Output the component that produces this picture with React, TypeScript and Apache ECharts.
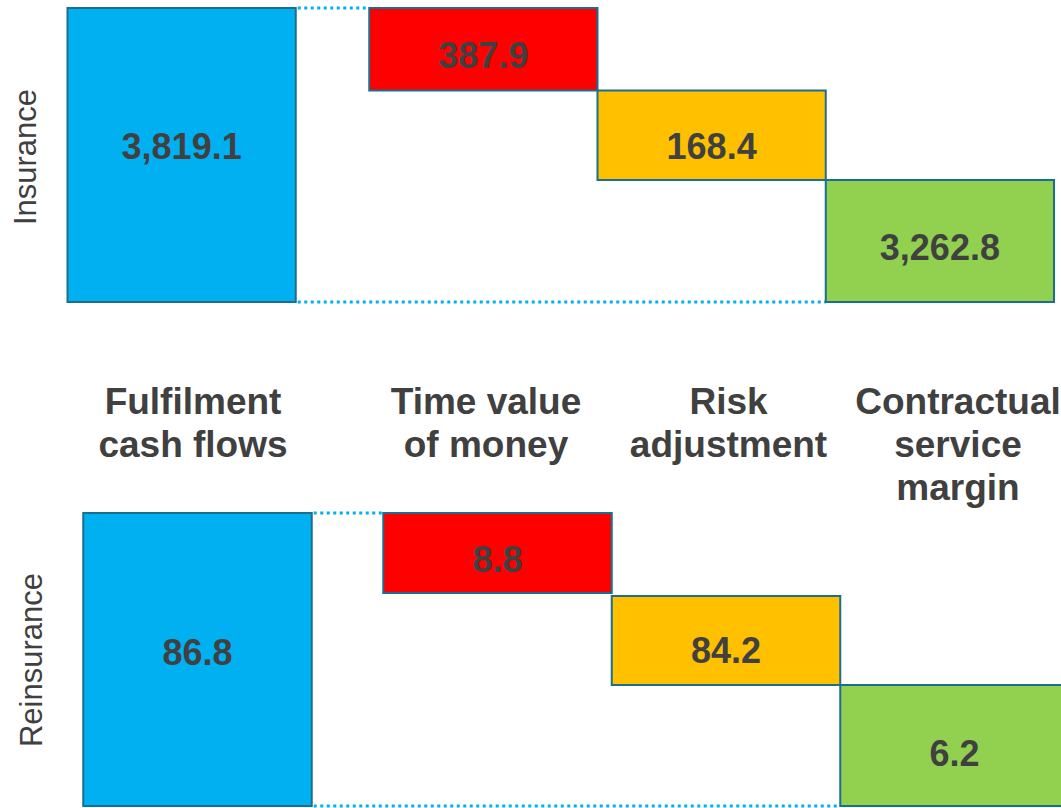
import React, { useEffect, useRef } from "react";
import * as echarts from "echarts";

// ---- data ----
const categories = [
  "Fulfilment\ncash flows",
  "Time value\nof money",
  "Risk\nadjustment",
  "Contractual\nservice\nmargin",
];
const panelTitles = ["Insurance", "Reinsurance"];

const insuranceValues = [3819.1, 387.9, 168.4, 3262.8];
const reinsuranceValues = [86.8, 8.8, 84.2, 6.2];

// The original is a schematic waterfall (not drawn to scale): each bar's span
// is read off the picture, in percent of the full first bar.
const insuranceSpanLow = [0, 71.9, 41.5, 0];
const insuranceSpanHigh = [100, 100, 71.9, 41.5];
const reinsuranceSpanLow = [0, 72.7, 41.3, 0];
const reinsuranceSpanHigh = [100, 100, 71.7, 41.3];

// ---- styles ----
const barColors = ["#00B0F0", "#FF0000", "#FFC000", "#92D050"];
const borderColor = "#1B6F8E";
const textColor = "#404040";
const FONT = '"Liberation Sans", Arial, Helvetica, sans-serif';

const fmt = (v: number) =>
  v.toLocaleString("en-US", { minimumFractionDigits: 1, maximumFractionDigits: 1 });

function makeRender(values: number[], firstShift: number, labelDy: number[]) {
  return (params: any, api: any) => {
    const i = params.dataIndex;
    const band = api.size([1, 0])[0];
    const pHigh = api.coord([i, api.value(2)]);
    const pLow = api.coord([i, api.value(1)]);
    const cx = pHigh[0] + (i === 0 ? firstShift : 0);
    const x = cx - band / 2;
    const children: any[] = [];
    if (i === 0) {
      const nextLeft = api.coord([1, 0])[0] - band / 2;
      const lastLeft = api.coord([values.length - 1, 0])[0] - band / 2;
      const right = x + band;
      const dot = { stroke: "#00B0F0", lineWidth: 3, lineDash: [3, 3.5] };
      children.push({
        type: "line",
        shape: { x1: right + 2, y1: pHigh[1], x2: nextLeft, y2: pHigh[1] },
        style: dot,
      });
      children.push({
        type: "line",
        shape: { x1: right + 2, y1: pLow[1], x2: lastLeft, y2: pLow[1] },
        style: dot,
      });
    }
    children.push({
      type: "rect",
      shape: { x, y: pHigh[1], width: band, height: pLow[1] - pHigh[1] },
      style: { fill: barColors[i], stroke: borderColor, lineWidth: 2 },
    });
    children.push({
      type: "text",
      x: cx,
      y: (pHigh[1] + pLow[1]) / 2 + labelDy[i],
      style: {
        text: fmt(values[i]),
        font: `bold 36px ${FONT}`,
        fill: textColor,
        align: "center",
        verticalAlign: "middle",
      },
    });
    return { type: "group", children };
  };
}

const categoryLabelX = [193, 486, 728.5, 958];

export default function App() {
  const ref = useRef<HTMLDivElement>(null);
  useEffect(() => {
    if (!ref.current) return;
    document.documentElement.style.overflow = "hidden";
    const chart = echarts.init(ref.current, undefined, { renderer: "svg" });
    const insData = insuranceValues.map((_, i) => [i, insuranceSpanLow[i], insuranceSpanHigh[i]]);
    const reData = reinsuranceValues.map((_, i) => [i, reinsuranceSpanLow[i], reinsuranceSpanHigh[i]]);

    const graphics: any[] = [
      {
        type: "text",
        x: 25,
        y: 157,
        rotation: Math.PI / 2,
        style: {
          text: panelTitles[0],
          font: `31px ${FONT}`,
          fill: textColor,
          align: "center",
          verticalAlign: "middle",
        },
      },
      {
        type: "text",
        x: 31,
        y: 660,
        rotation: Math.PI / 2,
        style: {
          text: panelTitles[1],
          font: `31px ${FONT}`,
          fill: textColor,
          align: "center",
          verticalAlign: "middle",
        },
      },
      ...categories.map((c, i) => ({
        type: "text",
        x: categoryLabelX[i],
        y: 380,
        style: {
          text: c,
          font: `bold 37px ${FONT}`,
          lineHeight: 43,
          fill: textColor,
          align: "center",
          verticalAlign: "top",
        },
      })),
    ];

    chart.setOption({
      animation: false,
      backgroundColor: "#ffffff",
      grid: [
        { left: 141, width: 913, top: 8, height: 294 },
        { left: 154.75, width: 914, top: 513, height: 293 },
      ],
      xAxis: [
        { type: "category", data: categories, gridIndex: 0, show: false },
        { type: "category", data: categories, gridIndex: 1, show: false },
      ],
      yAxis: [
        { type: "value", min: 0, max: 100, gridIndex: 0, show: false },
        { type: "value", min: 0, max: 100, gridIndex: 1, show: false },
      ],
      graphic: graphics,
      series: [
        {
          type: "custom",
          name: panelTitles[0],
          xAxisIndex: 0,
          yAxisIndex: 0,
          encode: { x: 0, y: [1, 2] },
          data: insData,
          renderItem: makeRender(insuranceValues, -73.5, [-9, 6, 11, 7]),
        },
        {
          type: "custom",
          name: panelTitles[1],
          xAxisIndex: 1,
          yAxisIndex: 1,
          encode: { x: 0, y: [1, 2] },
          data: reData,
          renderItem: makeRender(reinsuranceValues, -71.5, [-7, 7, 10, 8]),
        },
      ],
    });
    return () => chart.dispose();
  }, []);
  return (
    <div
      ref={ref}
      style={{ position: "fixed", left: 0, top: 0, width: 1100, height: 808, background: "#fff" }}
    />
  );
}
